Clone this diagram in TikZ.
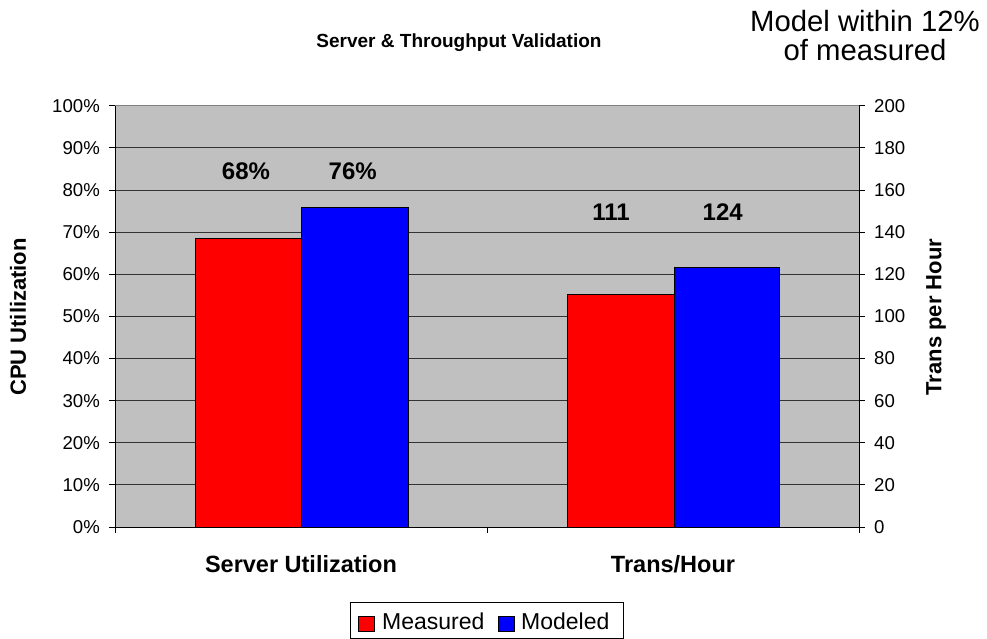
\documentclass[tikz,border=0pt]{standalone}
\usepackage{fontspec}
\setmainfont{Liberation Sans}
\definecolor{plotgray}{HTML}{C0C0C0}
\definecolor{barred}{HTML}{FF0000}
\definecolor{barblue}{HTML}{0000FF}
\begin{document}
\begin{tikzpicture}[x=1pt,y=1pt,
  ticklbl/.style={font=\fontsize{18.6}{20}\selectfont, inner sep=0pt},
  barlbl/.style={font=\bfseries\fontsize{24}{26}\selectfont, inner sep=0pt},
  catlbl/.style={font=\bfseries\fontsize{23.5}{26}\selectfont, inner sep=0pt},
  axlbl/.style={font=\bfseries\fontsize{22}{24}\selectfont, inner sep=0pt, rotate=90},
  gridline/.style={black!80, line width=0.8pt},
  axisline/.style={black, line width=0.9pt},
  barbox/.style={draw=black, line width=0.9pt},
  legtext/.style={font=\fontsize{23}{25}\selectfont, inner sep=0pt, anchor=base west},
  notetext/.style={font=\fontsize{29.3}{31}\selectfont, inner sep=0pt, anchor=base}]
\useasboundingbox (0,0) rectangle (987,639);
\fill[white] (0,0) rectangle (987,639);
% title
\node[font=\bfseries\fontsize{19}{21}\selectfont, inner sep=0pt] (title) at (459,596) {Server \& Throughput Validation};
\node[notetext] (note1) at (865,607.3) {Model within 12\%};
\node[notetext] (note2) at (865,578.3) {of measured};
\begin{scope}[shift={(115pt,112pt)}, y=4.213pt]
  \fill[plotgray] (0,0) rectangle (744,100);
  \foreach \v in {10,20,...,90} \draw[gridline] (0,\v) -- (744,\v);
  \draw[gray, line width=0.9pt] (0,100) -- (744,100);
  % bars
  \draw[barbox, fill=barred] (80,0) rectangle (186.7,68.4);
  \draw[barbox, fill=barblue] (186.7,0) rectangle (293,75.8);
  \draw[barbox, fill=barred] (452.7,0) rectangle (559,55.25);
  \draw[barbox, fill=barblue] (559,0) rectangle (664.3,61.65);
  % axes
  \draw[axisline] (0,0) -- (0,100);
  \draw[axisline] (744,0) -- (744,100);
  \draw[axisline] (0,0) -- (744,0);
  \foreach \v in {0,10,...,100} {
    \draw[axisline] (-6,\v) -- (0,\v);
    \draw[axisline] (744,\v) -- (750,\v);
    \pgfmathtruncatemacro\r{2*\v}
    \node[ticklbl, anchor=east] (yl\v) at (-15,\v) {\v\%};
    \node[ticklbl, anchor=west] (yr\v) at (759,\v) {\r};
  }
  \foreach \xx in {0,372,744} \draw[axisline] (\xx,0) -- (\xx,-1.45);
  % value labels
  \node[barlbl] (v1) at (131,84.5) {68\%};
  \node[barlbl] (v2) at (237.7,84.5) {76\%};
  \node[barlbl] (v3) at (496,74.8) {111};
  \node[barlbl] (v4) at (607.7,74.8) {124};
\end{scope}
% category labels
\node[catlbl] (c1) at (301,75) {Server Utilization};
\node[catlbl] (c2) at (673,75) {Trans/Hour};
% axis titles
\node[axlbl] (ytl) at (18,322) {CPU Utilization};
\node[axlbl] (ytr) at (936,322) {Trans per Hour};
% legend
\draw[black, line width=0.9pt] (350,0.7) rectangle (623,36.3);
\draw[barbox, fill=barred] (358,8) rectangle (374,23);
\node[legtext] (lm) at (382,9) {Measured};
\draw[barbox, fill=barblue] (498,8) rectangle (514,23);
\node[legtext] (lb) at (521,9) {Modeled};
\end{tikzpicture}
\end{document}
